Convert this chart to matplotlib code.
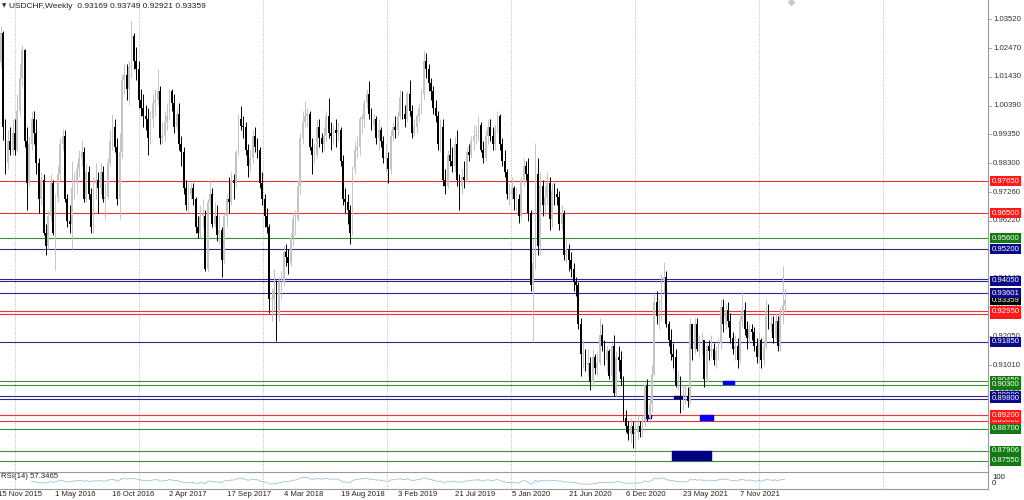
import numpy as np
import matplotlib
matplotlib.use("Agg")
import matplotlib.pyplot as plt
from matplotlib.patches import Rectangle

plt.rcParams['font.family'] = ['Liberation Sans', 'DejaVu Sans']

title = "USDCHF,Weekly  0.93169 0.93749 0.92921 0.93359"
rsi_text = "RSI(14) 57.3465"

# weekly candles, first bar = week of 15 Nov 2015; open of a bar = previous close
first_open = 1.0080
closes = [
    1.0195, 1.0300, 0.9960, 0.9830, 0.9910, 0.9880, 0.9940, 0.9880, 1.0020, 1.0140,
    1.0240, 0.9910, 0.9760, 0.9900, 0.9990, 0.9940, 0.9830, 0.9700, 0.9770, 0.9580,
    0.9530, 0.9640, 0.9760, 0.9580, 0.9710, 0.9790, 0.9900, 0.9930, 0.9700, 0.9620,
    0.9610, 0.9740, 0.9760, 0.9810, 0.9850, 0.9870, 0.9700, 0.9800, 0.9720, 0.9600,
    0.9760, 0.9770, 0.9740, 0.9800, 0.9700, 0.9710, 0.9830, 0.9910, 0.9960, 0.9890,
    0.9700, 0.9870, 1.0130, 1.0150, 1.0100, 1.0180, 1.0290, 1.0200, 1.0170, 1.0060,
    1.0030, 1.0000, 0.9990, 0.9920, 0.9990, 1.0050, 1.0060, 1.0090, 0.9920, 0.9930,
    0.9980, 1.0000, 1.0090, 1.0050, 0.9960, 1.0010, 0.9900, 0.9870, 0.9740, 0.9680,
    0.9720, 0.9740, 0.9700, 0.9600, 0.9580, 0.9640, 0.9640, 0.9450, 0.9690, 0.9720,
    0.9610, 0.9640, 0.9570, 0.9590, 0.9480, 0.9640, 0.9700, 0.9690, 0.9770, 0.9760,
    0.9870, 0.9990, 0.9965, 0.9960, 0.9880, 0.9820, 0.9850, 0.9930, 0.9890, 0.9880,
    0.9760, 0.9700, 0.9640, 0.9600, 0.9340, 0.9340, 0.9370, 0.9280, 0.9400, 0.9400,
    0.9510, 0.9490, 0.9470, 0.9560, 0.9630, 0.9630, 0.9750, 0.9920, 0.9980, 1.0000,
    1.0010, 0.9890, 0.9860, 0.9860, 0.9960, 0.9920, 0.9900, 0.9930, 1.0000, 0.9940,
    0.9930, 0.9950, 0.9940, 0.9950, 0.9840, 0.9700, 0.9690, 0.9660, 0.9580, 0.9810,
    0.9880, 0.9890, 0.9990, 0.9990, 1.0050, 1.0080, 1.0010, 0.9970, 0.9990, 0.9920,
    0.9950, 0.9910, 0.9850, 0.9850, 0.9810, 0.9930, 0.9960, 0.9950, 1.0000, 1.0070,
    1.0010, 0.9990, 1.0080, 1.0020, 0.9940, 0.9960, 1.0000, 1.0030, 1.0080, 1.0200,
    1.0170, 1.0120, 1.0090, 1.0030, 1.0000, 0.9900, 0.9960, 0.9770, 0.9750, 0.9860,
    0.9840, 0.9820, 0.9900, 0.9770, 0.9750, 0.9780, 0.9770, 0.9870, 0.9860, 0.9910,
    0.9930, 0.9930, 0.9970, 0.9880, 0.9850, 0.9930, 0.9960, 0.9930, 0.9900, 0.9950,
    1.0000, 0.9900, 0.9840, 0.9800, 0.9720, 0.9720, 0.9740, 0.9700, 0.9700, 0.9640,
    0.9770, 0.9820, 0.9790, 0.9650, 0.9390, 0.9470, 0.9790, 0.9530, 0.9750, 0.9680,
    0.9710, 0.9760, 0.9630, 0.9730, 0.9720, 0.9710, 0.9610, 0.9650, 0.9500, 0.9520,
    0.9480, 0.9450, 0.9400, 0.9390, 0.9250, 0.9140, 0.9140, 0.9100, 0.9110, 0.9040,
    0.9130, 0.9090, 0.9110, 0.9210, 0.9170, 0.9120, 0.9150, 0.9060, 0.9170, 0.9000,
    0.9130, 0.9120, 0.9050, 0.8910, 0.8880, 0.8850, 0.8880, 0.8850, 0.8860, 0.8880,
    0.8860, 0.8900, 0.9030, 0.8910, 0.8960, 0.9070, 0.9330, 0.9280, 0.9280, 0.9410,
    0.9420, 0.9250, 0.9190, 0.9140, 0.9130, 0.9030, 0.9040, 0.8990, 0.8990, 0.8990,
    0.8970, 0.9250, 0.9160, 0.9250, 0.9160, 0.9190, 0.9190, 0.9050, 0.9170, 0.9150,
    0.9160, 0.9120, 0.9150, 0.9180, 0.9310, 0.9250, 0.9300, 0.9260, 0.9200, 0.9160,
    0.9170, 0.9120, 0.9260, 0.9300, 0.9230, 0.9200, 0.9230, 0.9220, 0.9170, 0.9130,
    0.9190, 0.9120, 0.9170, 0.9300, 0.9250, 0.9250, 0.9200, 0.9260, 0.9170, 0.9290,
    0.93169, 0.93359,
]
highs = [
    1.0215, 1.0328, 1.0310, 0.9990, 0.9950, 0.9960, 0.9990, 0.9990, 1.0080, 1.0190,
    1.0257, 1.0245, 0.9960, 0.9930, 1.0020, 1.0020, 0.9990, 0.9850, 0.9800, 0.9790,
    0.9610, 0.9660, 0.9790, 0.9770, 0.9720, 0.9820, 0.9920, 0.9955, 0.9950, 0.9720,
    0.9680, 0.9840, 0.9800, 0.9830, 0.9880, 0.9915, 0.9890, 0.9830, 0.9820, 0.9740,
    0.9780, 0.9830, 0.9800, 0.9830, 0.9820, 0.9760, 0.9850, 0.9950, 1.0010, 0.9990,
    0.9920, 0.9940, 1.0150, 1.0190, 1.0190, 1.0200, 1.0344, 1.0300, 1.0250, 1.0200,
    1.0100, 1.0080, 1.0040, 1.0030, 1.0020, 1.0080, 1.0100, 1.0170, 1.0110, 0.9980,
    1.0020, 1.0050, 1.0100, 1.0100, 1.0080, 1.0030, 1.0050, 0.9930, 0.9890, 0.9770,
    0.9760, 0.9760, 0.9760, 0.9710, 0.9640, 0.9680, 0.9700, 0.9660, 0.9700, 0.9770,
    0.9740, 0.9690, 0.9680, 0.9640, 0.9600, 0.9650, 0.9720, 0.9780, 0.9800, 0.9790,
    0.9880, 1.0010, 1.0037, 1.0000, 0.9980, 0.9900, 0.9880, 0.9950, 0.9960, 0.9920,
    0.9890, 0.9800, 0.9720, 0.9670, 0.9610, 0.9380, 0.9450, 0.9410, 0.9420, 0.9440,
    0.9530, 0.9540, 0.9520, 0.9580, 0.9650, 0.9660, 0.9770, 0.9940, 1.0020, 1.0056,
    1.0030, 1.0020, 0.9920, 0.9900, 0.9990, 0.9990, 0.9940, 0.9960, 1.0020, 1.0068,
    0.9980, 0.9970, 0.9990, 0.9980, 0.9960, 0.9860, 0.9740, 0.9720, 0.9680, 0.9820,
    0.9910, 0.9930, 1.0000, 1.0010, 1.0060, 1.0100, 1.0128, 1.0030, 1.0010, 1.0000,
    0.9990, 0.9960, 0.9930, 0.9900, 0.9870, 0.9950, 0.9980, 1.0000, 1.0020, 1.0095,
    1.0090, 1.0040, 1.0090, 1.0130, 1.0040, 0.9990, 1.0010, 1.0050, 1.0100, 1.0237,
    1.0230, 1.0190, 1.0140, 1.0110, 1.0060, 1.0020, 0.9990, 0.9990, 0.9810, 0.9880,
    0.9920, 0.9890, 0.9930, 0.9950, 0.9790, 0.9810, 0.9840, 0.9890, 0.9900, 0.9930,
    0.9970, 0.9970, 1.0000, 0.9980, 0.9910, 0.9950, 0.9990, 0.9990, 0.9960, 0.9970,
    1.0020, 1.0010, 0.9920, 0.9880, 0.9810, 0.9760, 0.9780, 0.9750, 0.9740, 0.9720,
    0.9780, 0.9850, 0.9840, 0.9850, 0.9660, 0.9560, 0.9902, 0.9850, 0.9800, 0.9770,
    0.9750, 0.9800, 0.9780, 0.9760, 0.9760, 0.9740, 0.9730, 0.9680, 0.9660, 0.9560,
    0.9540, 0.9510, 0.9470, 0.9420, 0.9400, 0.9270, 0.9190, 0.9160, 0.9160, 0.9130,
    0.9160, 0.9140, 0.9150, 0.9270, 0.9250, 0.9190, 0.9170, 0.9160, 0.9180, 0.9210,
    0.9150, 0.9170, 0.9150, 0.9060, 0.8940, 0.8900, 0.8910, 0.8900, 0.8900, 0.8920,
    0.8900, 0.8920, 0.9040, 0.9050, 0.8990, 0.9100, 0.9360, 0.9370, 0.9340, 0.9430,
    0.9473, 0.9440, 0.9260, 0.9230, 0.9180, 0.9160, 0.9080, 0.9060, 0.9030, 0.9030,
    0.9020, 0.9270, 0.9250, 0.9270, 0.9270, 0.9210, 0.9220, 0.9190, 0.9180, 0.9190,
    0.9210, 0.9180, 0.9170, 0.9200, 0.9340, 0.9340, 0.9320, 0.9330, 0.9290, 0.9220,
    0.9210, 0.9200, 0.9280, 0.9370, 0.9330, 0.9260, 0.9250, 0.9250, 0.9240, 0.9200,
    0.9220, 0.9200, 0.9190, 0.9340, 0.9320, 0.9280, 0.9280, 0.9290, 0.9280, 0.9310,
    0.9460, 0.93749,
]
lows = [
    1.0060, 1.0180, 0.9915, 0.9790, 0.9810, 0.9860, 0.9860, 0.9860, 0.9870, 1.0000,
    1.0110, 0.9890, 0.9662, 0.9750, 0.9880, 0.9900, 0.9790, 0.9650, 0.9680, 0.9570,
    0.9500, 0.9520, 0.9620, 0.9570, 0.9444, 0.9690, 0.9770, 0.9880, 0.9690, 0.9600,
    0.9580, 0.9520, 0.9700, 0.9720, 0.9780, 0.9820, 0.9690, 0.9690, 0.9700, 0.9580,
    0.9580, 0.9700, 0.9650, 0.9720, 0.9690, 0.9630, 0.9700, 0.9820, 0.9880, 0.9870,
    0.9680, 0.9630, 0.9850, 1.0080, 1.0060, 1.0040, 1.0140, 1.0170, 1.0130, 1.0030,
    1.0000, 0.9960, 0.9950, 0.9860, 0.9900, 0.9960, 1.0000, 1.0040, 0.9900, 0.9900,
    0.9910, 0.9950, 0.9990, 1.0020, 0.9940, 0.9950, 0.9880, 0.9820, 0.9720, 0.9660,
    0.9650, 0.9700, 0.9680, 0.9580, 0.9560, 0.9560, 0.9600, 0.9440, 0.9440, 0.9650,
    0.9600, 0.9600, 0.9550, 0.9540, 0.9420, 0.9470, 0.9600, 0.9650, 0.9680, 0.9700,
    0.9740, 0.9860, 0.9950, 0.9920, 0.9860, 0.9780, 0.9800, 0.9830, 0.9870, 0.9850,
    0.9740, 0.9680, 0.9600, 0.9580, 0.9290, 0.9260, 0.9300, 0.9187, 0.9260, 0.9340,
    0.9390, 0.9460, 0.9430, 0.9460, 0.9530, 0.9570, 0.9620, 0.9720, 0.9900, 0.9960,
    0.9960, 0.9880, 0.9790, 0.9830, 0.9850, 0.9890, 0.9870, 0.9880, 0.9910, 0.9920,
    0.9880, 0.9900, 0.9890, 0.9910, 0.9820, 0.9680, 0.9650, 0.9610, 0.9540, 0.9570,
    0.9790, 0.9850, 0.9860, 0.9940, 0.9960, 1.0030, 0.9990, 0.9950, 0.9950, 0.9900,
    0.9880, 0.9890, 0.9830, 0.9800, 0.9760, 0.9790, 0.9910, 0.9920, 0.9930, 0.9990,
    0.9990, 0.9960, 0.9980, 1.0000, 0.9920, 0.9930, 0.9940, 0.9980, 1.0010, 1.0060,
    1.0140, 1.0090, 1.0060, 1.0010, 0.9980, 0.9880, 0.9870, 0.9750, 0.9720, 0.9740,
    0.9820, 0.9800, 0.9800, 0.9750, 0.9660, 0.9720, 0.9740, 0.9760, 0.9840, 0.9850,
    0.9880, 0.9900, 0.9910, 0.9870, 0.9830, 0.9840, 0.9900, 0.9910, 0.9880, 0.9880,
    0.9940, 0.9880, 0.9820, 0.9780, 0.9700, 0.9680, 0.9700, 0.9660, 0.9660, 0.9613,
    0.9630, 0.9750, 0.9770, 0.9620, 0.9370, 0.9183, 0.9450, 0.9500, 0.9500, 0.9640,
    0.9640, 0.9680, 0.9590, 0.9600, 0.9680, 0.9680, 0.9590, 0.9590, 0.9480, 0.9470,
    0.9440, 0.9420, 0.9370, 0.9350, 0.9230, 0.9060, 0.9090, 0.9080, 0.9060, 0.9010,
    0.9020, 0.9070, 0.9060, 0.9100, 0.9150, 0.9100, 0.9080, 0.9050, 0.9040, 0.8990,
    0.8990, 0.9080, 0.9030, 0.8900, 0.8860, 0.8830, 0.8820, 0.8800, 0.8794, 0.8830,
    0.8840, 0.8840, 0.8880, 0.8900, 0.8890, 0.8930, 0.9060, 0.9250, 0.9230, 0.9260,
    0.9360, 0.9240, 0.9170, 0.9120, 0.9090, 0.9020, 0.9010, 0.8927, 0.8940, 0.8960,
    0.8950, 0.8960, 0.9120, 0.9140, 0.9150, 0.9130, 0.9140, 0.9020, 0.9040, 0.9120,
    0.9130, 0.9100, 0.9090, 0.9120, 0.9160, 0.9220, 0.9230, 0.9240, 0.9180, 0.9140,
    0.9120, 0.9090, 0.9110, 0.9240, 0.9210, 0.9160, 0.9180, 0.9190, 0.9150, 0.9110,
    0.9110, 0.9090, 0.9100, 0.9160, 0.9230, 0.9220, 0.9180, 0.9190, 0.9150, 0.9150,
    0.9250, 0.92921,
]

# bottom time axis (bar index of each label)
date_labels = ["15 Nov 2015", "1 May 2016", "16 Oct 2016", "2 Apr 2017", "17 Sep 2017",
               "4 Mar 2018", "19 Aug 2018", "3 Feb 2019", "21 Jul 2019", "5 Jan 2020",
               "21 Jun 2020", "6 Dec 2020", "23 May 2021", "7 Nov 2021"]
date_bars = [0, 24, 48, 72, 96, 120, 144, 168, 192, 216, 240, 264, 288, 312]

price_ticks = [1.03520, 1.02470, 1.01430, 1.00390, 0.99350, 0.98300, 0.97260, 0.96220,
               0.95180, 0.94140, 0.93100, 0.92050, 0.91010, 0.89970, 0.88930, 0.87890]

# horizontal levels
level_prices = [0.97650, 0.96500, 0.95600, 0.95200, 0.94120, 0.94050, 0.93601, 0.92950,
                0.92850, 0.91850, 0.90450, 0.90300, 0.89900, 0.89800, 0.89200, 0.89000,
                0.88700, 0.87906, 0.87550]
level_colors = ["r", "r", "g", "b", "b", "b", "b", "r", "r", "b", "g", "g", "b", "b",
                "r", "r", "g", "g", "g"]

# price tags on the right axis, in drawing order
tag_prices = [0.97650, 0.96500, 0.95600, 0.95200, 0.94050, 0.93359, 0.93601, 0.92850,
              0.92950, 0.91850, 0.90450, 0.90300, 0.89900, 0.89800, 0.89000, 0.89200,
              0.88700, 0.87906, 0.87550]
tag_colors = ["r", "r", "g", "b", "b", "k", "b", "r", "r", "b", "g", "g", "b", "b",
              "r", "r", "g", "g", "g"]

# rectangles (bar from, bar to, price low, price high)
zone_x0 = [283.5, 295.2, 304.9, 272.5, 284.3]
zone_x1 = [300.3, 301.1, 310.0, 275.0, 288.1]
zone_lo = [0.87550, 0.89000, 0.90300, 0.89050, 0.89800]
zone_hi = [0.87906, 0.89200, 0.90450, 0.89200, 0.89900]
zone_col = ["navy", "blue", "blue", "navy", "navy"]

line_col = {"r": "#ee3333", "g": "#3a913a", "b": "#2a2a8a"}
tag_col = {"r": "#ff1a1a", "g": "#137a13", "b": "#0a0a86", "k": "#000000"}

n = len(closes)
idx = np.arange(n)
c = np.array(closes)
o = np.concatenate([[first_open], c[:-1]])
h = np.maximum(np.array(highs), np.maximum(o, c))
l = np.minimum(np.array(lows), np.minimum(o, c))

fig = plt.figure(figsize=(10.24, 5.0), dpi=100)
ax = fig.add_axes([0, 28 / 500, 988 / 1024, 472 / 500])
ax2 = fig.add_axes([0, 11 / 500, 988 / 1024, 17 / 500])

xlim = (0.69, 416.4)
for a in (ax, ax2):
    a.set_xlim(*xlim)
    a.set_xticks([])
    a.set_yticks([])
    for s in a.spines.values():
        s.set_visible(False)
    a.spines["right"].set_visible(True)
    a.spines["right"].set_color("#9a9a9a")
    a.spines["right"].set_linewidth(0.8)
    # yearly dotted grid
    for k in range(8):
        a.axvline(7 + k * 52.2, color="#b8b8b8", lw=0.7, ls=(0, (1, 1.5)), zorder=0)
ax.set_ylim(0.87143, 1.04207)
ax2.set_ylim(0, 100)
ax2.spines["top"].set_visible(True)
ax2.spines["top"].set_color("#9a9a9a")
ax2.spines["bottom"].set_visible(True)
ax2.spines["bottom"].set_color("#9a9a9a")

# levels
for p, cc in zip(level_prices, level_colors):
    ax.axhline(p, color=line_col[cc], lw=0.8, zorder=1)

# zones
for x0, x1, lo, hi, zc in zip(zone_x0, zone_x1, zone_lo, zone_hi, zone_col):
    ax.add_patch(Rectangle((x0, lo), x1 - x0, hi - lo, facecolor=zc, edgecolor=zc,
                           lw=0.3, zorder=2))

# candles
bull = c >= o
cols = np.where(bull, "#c4c4c4", "#000000")
ax.vlines(idx, l, h, colors=cols, lw=0.7, zorder=3)
body_lo = np.minimum(o, c)
body_h = np.maximum(np.abs(c - o), 0.0003)
ax.bar(idx, body_h, bottom=body_lo, width=0.75, color=cols, linewidth=0, zorder=4)

# right axis tick labels
ytr = ax.get_yaxis_transform()
for p in price_ticks:
    ax.text(1.005, p, f"{p:.5f}", transform=ytr, fontsize=5.6, color="#333333",
            ha="left", va="center", clip_on=False)
    ax.plot([1.0, 1.003], [p, p], transform=ytr, color="#9a9a9a", lw=0.6, clip_on=False)

# price tags
for p, tc in zip(tag_prices, tag_colors):
    ax.text(1.0035, p, f"{p:.5f}", transform=ytr, fontsize=5.6, color="white",
            ha="left", va="center", clip_on=False, zorder=10,
            bbox=dict(boxstyle="square,pad=0.18", facecolor=tag_col[tc],
                      edgecolor=tag_col[tc], lw=0))

# chart shift marker
ax.plot([333.5], [1.0413], marker="D", ms=3, color="#c8c8c8", clip_on=False)

# title
fig.text(2 / 1024, 1 - 6 / 500, "\u25bc", fontsize=4, color="#333333", va="center",
         family="DejaVu Sans")
fig.text(9 / 1024, 1 - 6 / 500, title, fontsize=6, color="#222222", va="center")

# RSI(14)
d = np.diff(c)
up = np.clip(d, 0, None)
dn = np.clip(-d, 0, None)
rsi = np.full(n, np.nan)
au, ad = up[:14].mean(), dn[:14].mean()
for i in range(14, n):
    if i > 14:
        au = (au * 13 + up[i - 1]) / 14
        ad = (ad * 13 + dn[i - 1]) / 14
    rsi[i] = 100 - 100 / (1 + au / ad) if ad > 0 else 100
ax2.plot(idx, rsi, color="#9cc3e0", lw=0.6)
ax2.text(0.001, 0.72, rsi_text, transform=ax2.transAxes, fontsize=5.6,
         color="#222222", ha="left", va="center")
ax2.text(1.004, 0.70, "100", transform=ax2.transAxes, fontsize=5.6, color="#222222",
         ha="left", va="center", clip_on=False)
ax2.text(1.004, 0.32, "0", transform=ax2.transAxes, fontsize=5.6, color="#222222",
         ha="left", va="center", clip_on=False)

# time labels
xtr = ax2.get_xaxis_transform()
for b, lab in zip(date_bars, date_labels):
    ax2.text(b, -0.3, lab, transform=xtr, fontsize=5.6, color="#222222",
             ha="left", va="center", clip_on=False)

fig.savefig("out.png", dpi=100, facecolor="white")
